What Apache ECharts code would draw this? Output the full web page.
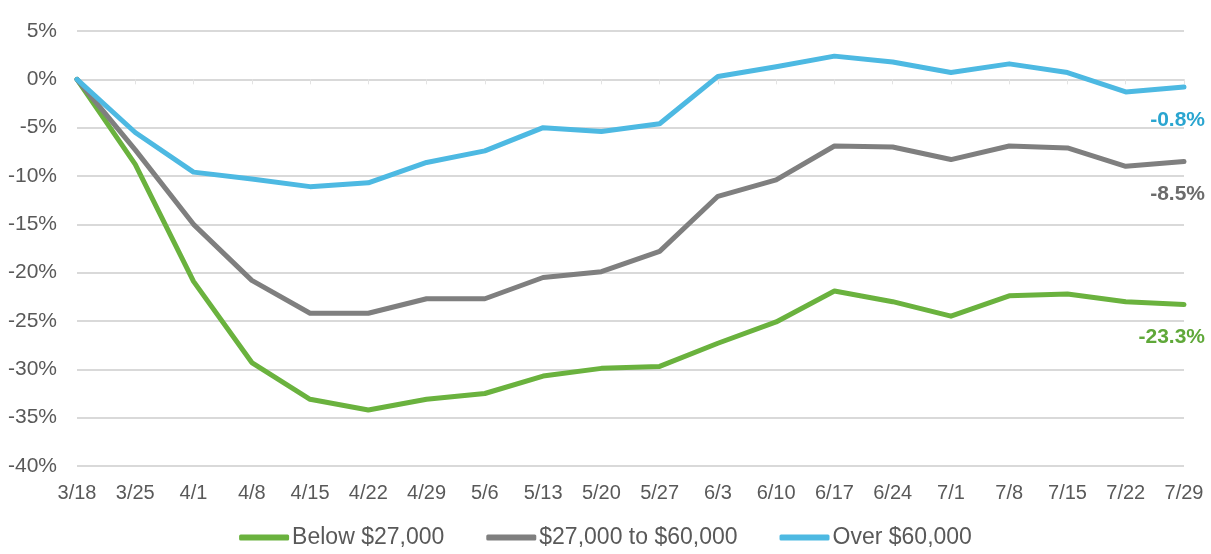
<!DOCTYPE html>
<html>
<head>
<meta charset="utf-8">
<script src="https://cdn.jsdelivr.net/npm/echarts@6/dist/echarts.min.js"></script>
<style>
html,body{margin:0;padding:0;background:#fff;}
#chart{width:1211px;height:554px;}
</style>
</head>
<body>
<div id="chart"></div>
<script>
var categories = ['3/18','3/25','4/1','4/8','4/15','4/22','4/29','5/6','5/13','5/20','5/27','6/3','6/10','6/17','6/24','7/1','7/8','7/15','7/22','7/29'];
var below27k = [0,-8.8,-20.9,-29.3,-33.1,-34.2,-33.1,-32.5,-30.7,-29.9,-29.7,-27.3,-25.1,-21.9,-23.0,-24.5,-22.4,-22.2,-23.0,-23.3];
var mid27to60k = [0,-7.3,-15.0,-20.8,-24.2,-24.2,-22.7,-22.7,-20.5,-19.9,-17.8,-12.1,-10.4,-6.9,-7.0,-8.3,-6.9,-7.1,-9.0,-8.5];
var over60k = [0,-5.5,-9.6,-10.3,-11.1,-10.7,-8.6,-7.4,-5.0,-5.4,-4.6,0.3,1.3,2.4,1.8,0.7,1.6,0.7,-1.3,-0.8];
var yTicks = {min:-40, max:5, step:5};
var seriesNames = ['Below $27,000','$27,000 to $60,000','Over $60,000'];
var endLabels = ['-23.3%','-8.5%','-0.8%'];

var lineColors = ['#6AB23E','#7F7F7F','#4DB9E2'];
var labelColors = ['#5FA839','#6B6B6B','#2AA5D0'];
var font = 'Liberation Sans, Arial, sans-serif';

function mkSeries(i, data){
  return {
    name: seriesNames[i],
    type: 'line',
    data: data,
    xAxisIndex: 0,
    showSymbol: false,
    symbol: 'none',
    smooth: false,
    lineStyle: {color: lineColors[i], width: 5, cap: 'round', join: 'round'},
    itemStyle: {color: lineColors[i]},
    endLabel: {
      show: true,
      formatter: function(){ return endLabels[i]; },
      color: labelColors[i],
      fontFamily: font,
      fontSize: 21,
      fontWeight: 'bold',
      align: 'right',
      offset: [13, 33]
    },
    emphasis: {disabled: true},
    animation: false
  };
}

var chart = echarts.init(document.getElementById('chart'));
chart.setOption({
  backgroundColor: '#fff',
  animation: false,
  grid: {left: 77, right: 27, top: 31, bottom: 88, containLabel: false},
  legend: {
    bottom: 0,
    left: 'center',
    itemWidth: 50,
    itemHeight: 6,
    itemGap: 42,
    icon: 'roundRect',
    textStyle: {color: '#595959', fontSize: 23, fontFamily: font, padding: [0,0,0,-2]},
    data: seriesNames
  },
  xAxis: [
    {
      type: 'category',
      data: categories,
      boundaryGap: false,
      position: 'bottom',
      axisLine: {show: false, onZero: false},
      axisTick: {show: false},
      splitLine: {show: false},
      axisLabel: {color: '#595959', fontSize: 20, fontFamily: font, margin: 17, interval: 0}
    },
    {
      type: 'category',
      data: categories,
      boundaryGap: false,
      position: 'bottom',
      axisLine: {show: true, onZero: true, lineStyle: {color: '#D9D9D9', width: 2}},
      axisTick: {show: true, inside: false, length: 5, lineStyle: {color: '#E3E3E3', width: 1}, interval: 0},
      axisLabel: {show: false},
      splitLine: {show: false}
    }
  ],
  yAxis: {
    type: 'value',
    min: yTicks.min,
    max: yTicks.max,
    interval: yTicks.step,
    axisLine: {show: false},
    axisTick: {show: false},
    splitLine: {lineStyle: {color: '#D9D9D9', width: 2}},
    axisLabel: {color: '#595959', fontSize: 21, fontFamily: font, margin: 20, formatter: function(v){ return v + '%'; }}
  },
  series: [mkSeries(0, below27k), mkSeries(1, mid27to60k), mkSeries(2, over60k)]
});
</script>
</body>
</html>
